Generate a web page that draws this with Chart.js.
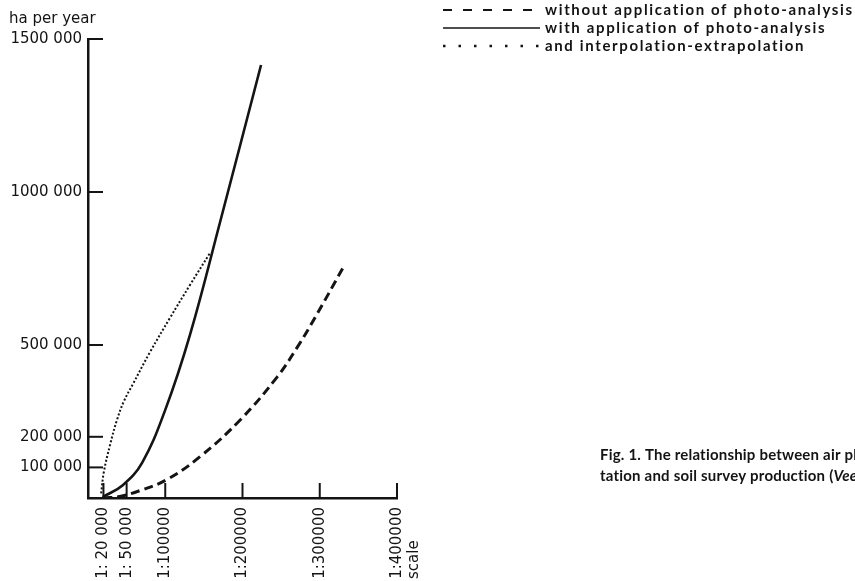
<!DOCTYPE html>
<html>
<head>
<meta charset="utf-8">
<script src="https://cdn.jsdelivr.net/npm/chart.js@4.4.1/dist/chart.umd.min.js"></script>
<style>
    html, body { margin: 0; padding: 0; background: #fff; }
</style>
</head>
<body>
<canvas id="myChart" width="855" height="581"></canvas>
<script>
// x axis = map scale (1:n), y axis = ha per year
var scaleTicks = [20000, 50000, 100000, 200000, 300000, 400000];
var scaleLabels = ['1: 20 000', '1: 50 000', '1:100000', '1:200000', '1:300000', '1:400000'];
var haTicks = [100000, 200000, 500000, 1000000, 1500000];
var haLabels = ['100 000', '200 000', '500 000', '1000 000', '1500 000'];

var seriesNames = [
    'without application of photo-analysis',
    'with application of photo-analysis',
    'and interpolation-extrapolation'
];

// dashed - without photo-analysis
var withoutX = [20000, 41000, 67000, 102000, 145000, 197000, 245000, 271000, 294000, 330000];
var withoutY = [0, 5000, 24000, 60000, 135000, 255000, 396000, 493000, 590000, 752000];

// solid - with photo-analysis
var withX = [19000, 45000, 70000, 100000, 132000, 171000, 224000];
var withY = [3000, 42000, 115000, 288000, 533000, 902000, 1415000];

// dotted - interpolation-extrapolation
var interpX = [17000, 20500, 28500, 37500, 46600, 58300, 80300, 106000, 132000, 158000];
var interpY = [15000, 85000, 173000, 255000, 317000, 373000, 477000, 588000, 696000, 801000];

function pts(xs, ys) {
    var out = [];
    for (var i = 0; i < xs.length; i++) out.push({ x: xs[i], y: ys[i] });
    return out;
}

var ink = '#141414';
var tickFont = { family: 'DejaVu Sans', size: 15 };

// inner tick marks, axis caption, legend, figure caption
var extras = {
    id: 'extras',
    afterDraw: function (chart) {
        var ctx = chart.ctx;
        var area = chart.chartArea;
        var xs = chart.scales.x, ys = chart.scales.y;
        ctx.save();
        ctx.strokeStyle = ink;
        ctx.lineWidth = 2;
        ctx.setLineDash([]);
        haTicks.forEach(function (v) {
            var py = ys.getPixelForValue(v);
            ctx.beginPath();
            ctx.moveTo(area.left, py);
            ctx.lineTo(area.left + 15, py);
            ctx.stroke();
        });
        scaleTicks.forEach(function (v) {
            var px = xs.getPixelForValue(v);
            ctx.beginPath();
            ctx.moveTo(px, area.bottom);
            ctx.lineTo(px, area.bottom - 15);
            ctx.stroke();
        });

        ctx.fillStyle = ink;
        ctx.font = '15px "DejaVu Sans"';
        ctx.textBaseline = 'alphabetic';
        ctx.textAlign = 'left';
        ctx.fillText('ha per year', 9, 23);

        // "scale" next to last x label
        ctx.save();
        ctx.translate(xs.getPixelForValue(400000) + 17, 579);
        ctx.rotate(-Math.PI / 2);
        ctx.textBaseline = 'middle';
        ctx.fillText('scale', 0, 0);
        ctx.restore();

        // legend
        var rows = [10, 28, 46];
        var dashes = [[9, 11], [], [2.5, 13]];
        var widths = [2, 1.5, 2.5];
        ctx.font = 'bold 15px Lato';
        ctx.textBaseline = 'middle';
        ctx.letterSpacing = '0px';
        var sp = (309 - ctx.measureText(seriesNames[0]).width) / seriesNames[0].length;
        ctx.letterSpacing = sp.toFixed(2) + 'px';
        for (var i = 0; i < seriesNames.length; i++) {
            ctx.beginPath();
            ctx.lineWidth = widths[i];
            ctx.setLineDash(dashes[i]);
            ctx.moveTo(443, rows[i]);
            ctx.lineTo(540, rows[i]);
            ctx.stroke();
            ctx.fillText(seriesNames[i], 545, rows[i]);
        }
        ctx.setLineDash([]);

        // figure caption (cut at right edge as in the original)
        ctx.font = 'bold 15px Lato';
        ctx.letterSpacing = '0.2px';
        ctx.fillText('Fig. 1. The relationship between air ph', 600, 455);
        var line2 = 'tation and soil survey production (';
        ctx.fillText(line2, 600, 476);
        var w = ctx.measureText(line2).width;
        ctx.font = 'italic bold 15px Lato';
        ctx.fillText('Veen', 600 + w, 476);
        ctx.restore();
    }
};

var ctx = document.getElementById('myChart');

var chart = new Chart(ctx, {
    type: 'scatter',
    data: {
        datasets: [{
            label: seriesNames[0],
            data: pts(withoutX, withoutY),
            showLine: true,
            borderColor: ink,
            borderWidth: 3,
            borderDash: [9, 5],
            pointRadius: 0,
            tension: 0.4
        }, {
            label: seriesNames[1],
            data: pts(withX, withY),
            showLine: true,
            borderColor: ink,
            borderWidth: 2.6,
            pointRadius: 0,
            tension: 0.4
        }, {
            label: seriesNames[2],
            data: pts(interpX, interpY),
            showLine: true,
            borderColor: ink,
            borderWidth: 2,
            borderDash: [2, 2],
            pointRadius: 0,
            tension: 0.4
        }]
    },
    options: {
        responsive: false,
        animation: false,
        devicePixelRatio: 1,
        layout: { padding: { top: 39, right: 458, bottom: 0, left: 0 } },
        plugins: {
            legend: { display: false },
            tooltip: { enabled: false }
        },
        scales: {
            x: {
                type: 'linear',
                min: 0,
                max: 400000,
                border: { color: ink, width: 2.5 },
                grid: { display: false, drawTicks: false },
                afterBuildTicks: function (scale) {
                    scale.ticks = scaleTicks.map(function (v) { return { value: v }; });
                },
                afterFit: function (scale) { scale.height = 83; },
                ticks: {
                    autoSkip: false,
                    minRotation: 90,
                    maxRotation: 90,
                    padding: 9,
                    color: ink,
                    font: tickFont,
                    callback: function (v) { return scaleLabels[scaleTicks.indexOf(v)]; }
                }
            },
            y: {
                type: 'linear',
                min: 0,
                max: 1500000,
                border: { color: ink, width: 2.5 },
                grid: { display: false, drawTicks: false },
                afterBuildTicks: function (scale) {
                    scale.ticks = haTicks.map(function (v) { return { value: v }; });
                },
                afterFit: function (scale) { scale.width = 88; },
                ticks: {
                    padding: 6,
                    color: ink,
                    font: tickFont,
                    callback: function (v) { return haLabels[haTicks.indexOf(v)]; }
                }
            }
        }
    },
    plugins: [extras]
});
</script>
</body>
</html>
